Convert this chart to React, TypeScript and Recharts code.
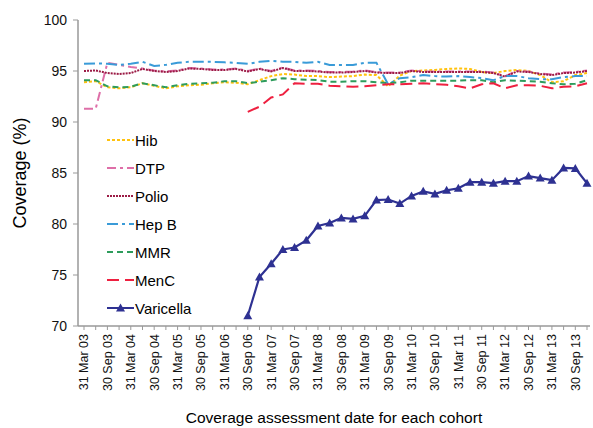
import React from "react";
import { LineChart, Line, XAxis, YAxis, Label } from "recharts";

const quarters = [
  "31 Mar 03", "30 Jun 03", "30 Sep 03", "31 Dec 03",
  "31 Mar 04", "30 Jun 04", "30 Sep 04", "31 Dec 04",
  "31 Mar 05", "30 Jun 05", "30 Sep 05", "31 Dec 05",
  "31 Mar 06", "30 Jun 06", "30 Sep 06", "31 Dec 06",
  "31 Mar 07", "30 Jun 07", "30 Sep 07", "31 Dec 07",
  "31 Mar 08", "30 Jun 08", "30 Sep 08", "31 Dec 08",
  "31 Mar 09", "30 Jun 09", "30 Sep 09", "31 Dec 09",
  "31 Mar 10", "30 Jun 10", "30 Sep 10", "31 Dec 10",
  "31 Mar 11", "30 Jun 11", "30 Sep 11", "31 Dec 11",
  "31 Mar 12", "30 Jun 12", "30 Sep 12", "31 Dec 12",
  "31 Mar 13", "30 Jun 13", "30 Sep 13", "31 Dec 13",
];

const hib = [
  93.9, 94.0, 93.4, 93.3, 93.4, 93.8, 93.55, 93.3, 93.5, 93.6, 93.65, 93.8,
  93.9, 93.85, 93.7, 94.1, 94.5, 94.7, 94.65, 94.5, 94.5, 94.4, 94.45, 94.5,
  94.65, 94.6, 93.5, 94.55, 95.0, 95.05, 95.1, 95.2, 95.25, 95.2, 94.9, 94.8,
  95.0, 95.1, 95.0, 94.6, 93.9, 94.0, 94.6, 94.8,
];

const dtp = [
  91.3, 91.3, 95.8, 95.6, 95.4, 95.25, 95.05, 94.95, 95.05, 95.3, 95.25, 95.15,
  95.15, 95.25, 95.0, 95.25, 95.0, 95.35, 95.05, 95.05, 95.0, 94.9, 94.9, 94.95,
  95.05, 94.9, 94.85, 94.85, 95.05, 94.95, 94.95, 94.95, 94.95, 94.95, 94.95, 94.85,
  94.5, 95.0, 94.95, 94.75, 94.65, 94.85, 94.9, 95.05,
];

const polio = [
  95.0, 95.05, 94.8, 94.7, 94.8, 95.2, 95.0, 94.9, 95.0, 95.25, 95.2, 95.1,
  95.1, 95.2, 94.95, 95.2, 94.95, 95.3, 95.0, 95.0, 94.95, 94.85, 94.85, 94.9,
  95.0, 94.85, 94.8, 94.8, 95.0, 94.9, 94.9, 94.9, 94.9, 94.9, 94.9, 94.8,
  94.45, 94.95, 94.9, 94.7, 94.6, 94.8, 94.85, 95.0,
];

const hepB = [
  95.7, 95.75, 95.7, 95.6, 95.7, 95.9, 95.5, 95.6, 95.8, 95.9, 95.9, 95.9,
  95.85, 95.8, 95.7, 95.9, 96.0, 95.9, 95.9, 95.8, 95.9, 95.6, 95.6, 95.6,
  95.8, 95.8, 93.7, 94.3, 94.4, 94.6, 94.5, 94.45, 94.5, 94.4, 94.3, 94.1,
  94.5, 94.5, 94.3, 94.2, 94.2, 94.4, 94.5, 94.5,
];

const mmr = [
  94.1, 94.1, 93.5, 93.4, 93.45, 93.8, 93.6, 93.4, 93.6, 93.75, 93.8, 93.85,
  94.0, 94.0, 93.8, 93.95, 94.1, 94.3, 94.2, 94.15, 94.1, 93.95, 93.95, 94.0,
  94.0, 93.9, 93.8, 93.9, 94.05, 94.05, 94.05, 94.05, 94.05, 94.1, 94.1, 93.9,
  94.1, 94.05, 94.0, 93.95, 93.8, 93.7, 93.75, 94.1,
];

const menC = [
  null, null, null, null, null, null, null, null, null, null, null, null,
  null, null, 91.0, 91.5, 92.4, 92.7, 93.8, 93.75, 93.75, 93.55, 93.5, 93.45,
  93.5, 93.6, 93.7, 93.7, 93.75, 93.8, 93.7, 93.65, 93.5, 93.3, 93.7, 93.8,
  93.3, 93.6, 93.6, 93.55, 93.3, 93.45, 93.5, 93.8,
];

const varicella = [
  null, null, null, null, null, null, null, null, null, null, null, null,
  null, null, 71.0, 74.8, 76.1, 77.5, 77.7, 78.4, 79.8, 80.1, 80.6, 80.5,
  80.8, 82.35, 82.4, 82.0, 82.75, 83.2, 82.95, 83.3, 83.5, 84.1, 84.1, 84.0,
  84.2, 84.2, 84.7, 84.5, 84.3, 85.5, 85.45, 84.0,
];

const yTicks = [70, 75, 80, 85, 90, 95, 100];

const data = quarters.map((q, i) => ({
  q,
  hib: hib[i],
  dtp: dtp[i],
  polio: polio[i],
  hepB: hepB[i],
  mmr: mmr[i],
  menC: menC[i],
  varicella: varicella[i],
}));

const FONT = "'Liberation Sans', Arial, sans-serif";

const series = [
  { key: "hib", name: "Hib", color: "#FFC20E", dash: "3 2" },
  { key: "dtp", name: "DTP", color: "#DE6FA8", dash: "9 4 3 4" },
  { key: "polio", name: "Polio", color: "#9B1B45", dash: "2 1" },
  { key: "hepB", name: "Hep B", color: "#3A9BD8", dash: "11 4 3 4" },
  { key: "mmr", name: "MMR", color: "#2E9C5C", dash: "6 4" },
  { key: "menC", name: "MenC", color: "#EE2040", dash: "12 6" },
  { key: "varicella", name: "Varicella", color: "#2E3192", dash: undefined },
];

function Triangle({ cx, cy, payload }: any) {
  if (cy == null || payload?.varicella == null) return <g />;
  return (
    <path
      d={`M${cx - 4.5},${cy + 3.5} L${cx + 4.5},${cy + 3.5} L${cx},${cy - 4.5} Z`}
      fill="#2E3192"
    />
  );
}

function QuarterTick({ x, y, payload, index }: any) {
  if (index % 2 !== 0) return <g />;
  return (
    <text
      x={x}
      y={y}
      dy="0.35em"
      transform={`rotate(-90, ${x}, ${y})`}
      textAnchor="end"
      fontSize={12.5}
      fontFamily={FONT}
      fill="#111"
    >
      {payload.value}
    </text>
  );
}

// legend drawn as an overlay so it doesn't shrink the plot area
function LegendBox() {
  return (
    <div
      style={{
        position: "absolute",
        left: 107,
        top: 126,
        fontFamily: FONT,
        fontSize: 15,
        color: "#000",
      }}
    >
      {series.map((s) => (
        <div
          key={s.key}
          style={{ display: "flex", alignItems: "center", height: 28 }}
        >
          <svg width={27} height={12} style={{ marginRight: 1 }}>
            <line
              x1={0}
              y1={6}
              x2={27}
              y2={6}
              stroke={s.color}
              strokeWidth={2}
              strokeDasharray={s.dash}
            />
            {s.key === "varicella" ? (
              <path d="M9,9.5 L18,9.5 L13.5,1.5 Z" fill={s.color} />
            ) : null}
          </svg>
          <span>{s.name}</span>
        </div>
      ))}
    </div>
  );
}

export default function App() {
  return (
    <div
      style={{
        position: "absolute",
        left: 0,
        top: 0,
        width: 593,
        height: 428,
        overflow: "hidden",
        background: "#fff",
      }}
    >
      <LineChart
        width={593}
        height={428}
        data={data}
        margin={{ top: 20, right: 3, left: 0, bottom: 32 }}
      >
        <XAxis
          dataKey="q"
          interval={0}
          height={70}
          tick={<QuarterTick />}
          tickSize={4}
          tickMargin={4}
          tickLine={{ stroke: "#999" }}
          axisLine={{ stroke: "#999", strokeWidth: 1.5 }}
          padding={{ left: 6, right: 3 }}
        >
          <Label
            value="Coverage assessment date for each cohort"
            position="bottom"
            offset={16}
            style={{ fontFamily: FONT, fontSize: 15.5, fill: "#000" }}
          />
        </XAxis>
        <YAxis
          domain={[70, 100]}
          ticks={yTicks}
          width={78}
          tickSize={5}
          tickMargin={6}
          tickLine={{ stroke: "#999" }}
          axisLine={{ stroke: "#999", strokeWidth: 1.5 }}
          tick={{ fontSize: 14, fontFamily: FONT, fill: "#111" }}
        >
          <Label
            content={({ viewBox }: any) => {
              const cy = viewBox.y + viewBox.height / 2;
              return (
                <text
                  x={20}
                  y={cy}
                  transform={`rotate(-90, 20, ${cy})`}
                  textAnchor="middle"
                  dominantBaseline="central"
                  fontSize={18}
                  fontFamily={FONT}
                  fill="#000"
                >
                  Coverage (%)
                </text>
              );
            }}
          />
        </YAxis>
        {series.map((s) => (
          <Line
            key={s.key}
            type="linear"
            dataKey={s.key}
            name={s.name}
            stroke={s.color}
            strokeWidth={s.key === "varicella" ? 2.2 : 2}
            strokeDasharray={s.dash}
            dot={s.key === "varicella" ? <Triangle /> : false}
            activeDot={false}
            isAnimationActive={false}
          />
        ))}
      </LineChart>
      <LegendBox />
    </div>
  );
}
